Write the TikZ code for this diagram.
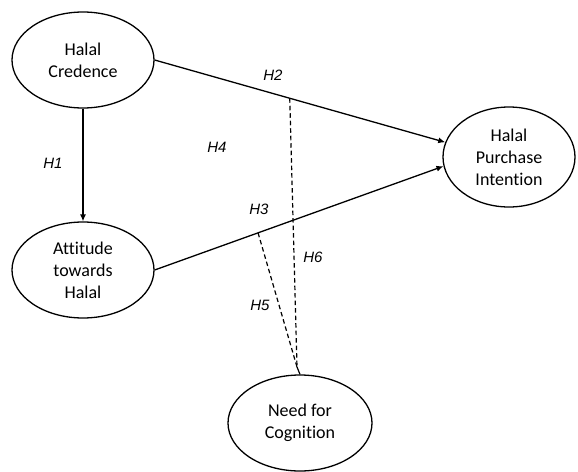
\documentclass[tikz,border=0pt]{standalone}
\usepackage{fontspec}
\setmainfont[Ligatures={NoCommon}]{Carlito}
\newfontfamily\labfont{Liberation Sans}
\usetikzlibrary{shapes.geometric,calc,arrows.meta}
\begin{document}
\begin{tikzpicture}[x=1pt,y=-1pt,
  construct/.style={ellipse,draw,line width=1.3pt,inner sep=0pt,align=center,
    font=\fontsize{18}{22}\selectfont},
  hyp/.style={font=\labfont\itshape\fontsize{15}{18}\selectfont},
  path1/.style={line width=1.3pt,-{Latex[length=7pt,width=6pt]}},
  moder/.style={line width=1.2pt,dash pattern=on 4.5pt off 3pt}]
\useasboundingbox (0,0) rectangle (578,471);
\node[construct,minimum width=142pt,minimum height=96pt] (cred) at (83,60) {Halal\\Credence};
\node[construct,minimum width=142pt,minimum height=96pt] (att) at (83,270) {Attitude\\towards\\Halal};
\node[construct,minimum width=132pt,minimum height=100pt] (pi) at (509,157) {Halal\\Purchase\\Intention};
\node[construct,minimum width=144pt,minimum height=96pt] (nfc) at (300,423) {Need for\\Cognition};
\draw[path1] (cred) -- (att);
\draw[path1] (cred.east) -- (pi.167);
\draw[path1] (att.east) -- (pi.188);
\coordinate (a) at ($(cred.east)!0.465!(pi.167)$);
\coordinate (b) at ($(att.east)!0.358!(pi.188)$);
\coordinate (m) at (297,367);
\draw[moder] (a) -- (m);
\draw[moder] (b) -- (m);
\draw[line width=1.2pt] (m) -- (nfc.north);
\node[hyp] (h1) at (53,163) {H1};
\node[hyp] (h2) at (273,75) {H2};
\node[hyp] (h3) at (259,209) {H3};
\node[hyp] (h4) at (217,147) {H4};
\node[hyp] (h5) at (260,305) {H5};
\node[hyp] (h6) at (313,257) {H6};
\end{tikzpicture}
\end{document}
